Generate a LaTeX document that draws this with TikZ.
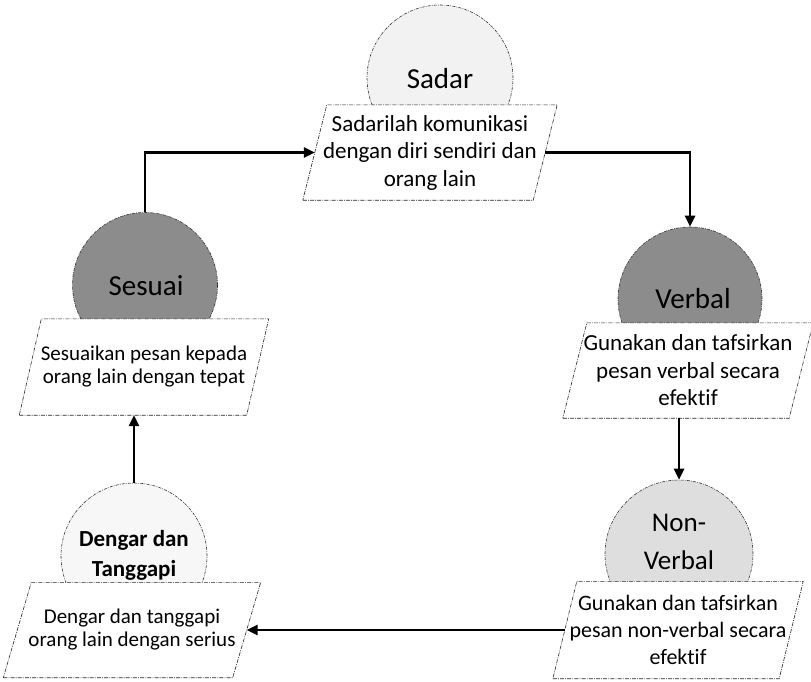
\documentclass[tikz,border=0pt]{standalone}
\usepackage{fontspec}
\setmainfont{Carlito}[Ligatures=NoCommon]
\usetikzlibrary{arrows.meta}
\pgfdeclarelayer{back}
\pgfdeclarelayer{mid}
\pgfsetlayers{back,mid,main}

\tikzset{
  bubble/.style={circle, draw=black!80, line width=0.6pt, dash pattern=on 3pt off 1.2pt on 0.8pt off 1.2pt, inner sep=0pt, minimum size=#1},
  headtext/.style={font=\fontsize{29}{38}\selectfont, align=center, inner sep=0pt},
  boxtext/.style={font=\fontsize{23}{27.5}\selectfont, align=center, inner sep=0pt},
  smalltext/.style={boxtext, font=\fontsize{21}{23}\selectfont},
  slantbox/.style={draw=black!85, line width=0.6pt, dash pattern=on 4pt off 1.2pt on 0.8pt off 1.2pt, fill=white},
  flow/.style={line width=2.5pt, -{Triangle[length=11pt,width=10pt]}}
}

% parallelogram around a text node: #1 node name, #2 half slant
\newcommand{\slanted}[2]{%
  \begin{pgfonlayer}{mid}
    \draw[slantbox] ([xshift=-#2pt]#1.south west) -- ([xshift=-#2pt]#1.south east)
      -- ([xshift=#2pt]#1.north east) -- ([xshift=#2pt]#1.north west) -- cycle;
  \end{pgfonlayer}}

\begin{document}
\begin{tikzpicture}[x=1pt, y=-1pt]
\useasboundingbox (0,0) rectangle (811,681);

% ---- header bubbles ----
\begin{pgfonlayer}{back}
  \node[bubble=146pt, fill=black!5]  (cSadar)  at (440,78)  {};
  \node[bubble=145pt, fill=black!45] (cSesuai) at (145,285) {};
  \node[bubble=144pt, fill=black!45] (cVerbal) at (690,299) {};
  \node[bubble=148pt, fill=black!13] (cNon)    at (679,554) {};
  \node[bubble=146pt, fill=black!3]  (cDen)    at (134,556) {};
\end{pgfonlayer}

\node[headtext] (tSadar)  at (440,79)  {Sadar};
\node[headtext] (tSesuai) at (146,286) {Sesuai};
\node[headtext] (tVerbal) at (693,299) {Verbal};
\node[headtext, font=\fontsize{27}{38}\selectfont] (tNon) at (679,542) {Non-\\Verbal};
\node[headtext, font=\fontsize{23}{30}\selectfont\bfseries] (tDen) at (134,555) {Dengar dan\\Tanggapi};

% ---- description boxes ----
\node[boxtext, minimum width=230pt, minimum height=95pt]  (pSadar)  at (430,152.5)
  {Sadarilah komunikasi\\dengan diri sendiri dan\\orang lain};
\node[smalltext, minimum width=227pt, minimum height=96pt] (pSesuai) at (144,367)
  {Sesuaikan pesan kepada\\orang lain dengan tepat};
\node[boxtext, minimum width=226pt, minimum height=95pt]  (pVerbal) at (688,370.5)
  {Gunakan dan tafsirkan\\pesan verbal secara\\efektif};
\node[boxtext, font=\fontsize{22}{27}\selectfont, minimum width=226pt, minimum height=97pt] (pNon) at (678,630)
  {Gunakan dan tafsirkan\\pesan non-verbal secara\\efektif};
\node[smalltext, minimum width=229pt, minimum height=95pt] (pDen)    at (132,630)
  {Dengar dan tanggapi\\orang lain dengan serius};

\slanted{pSadar}{12}
\slanted{pSesuai}{11}
\slanted{pVerbal}{12}
\slanted{pNon}{12}
\slanted{pDen}{14}

% ---- cycle of arrows ----
\draw[flow] (cSesuai.north) |- (pSadar.west);
\draw[flow] (pSadar.east) -| (cVerbal.north);
\draw[flow] (pVerbal.south -| cNon.north) -- (cNon.north);
\draw[flow] (pNon.west) -- (pDen.east);
\draw[flow] (cDen.north) -- (cDen.north |- pSesuai.south);
\end{tikzpicture}
\end{document}
